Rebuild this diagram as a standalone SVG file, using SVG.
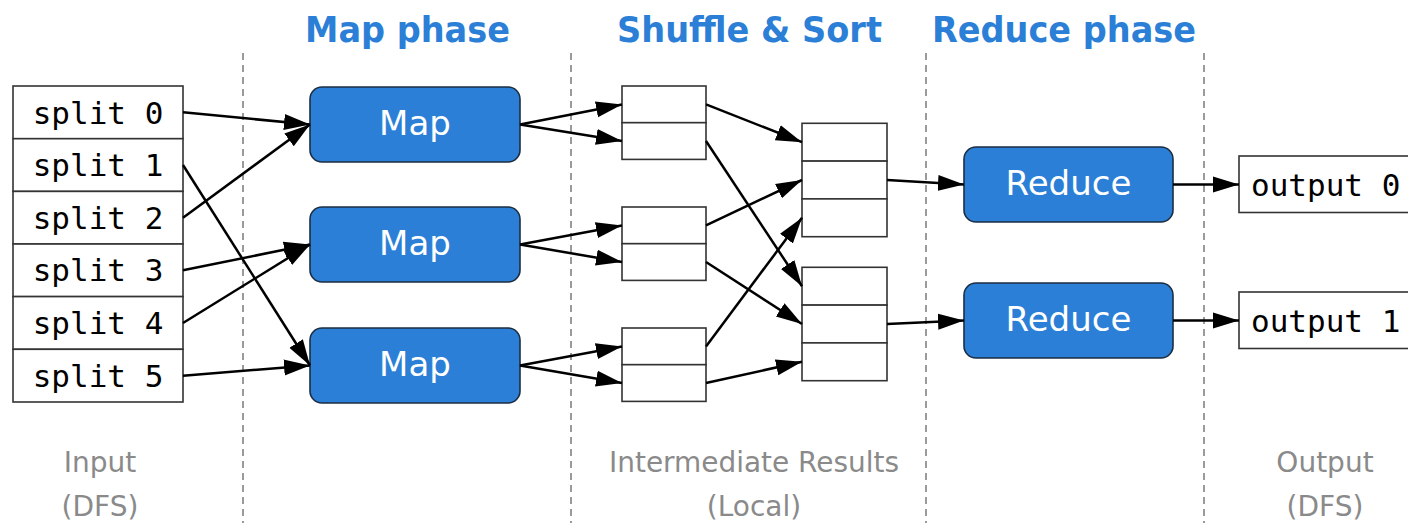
<svg xmlns="http://www.w3.org/2000/svg" width="1408" height="523" viewBox="0 0 1408 523">
  <style>
    .phase { font-family: "DejaVu Sans", "Liberation Sans", sans-serif; font-weight: bold; font-size: 36px; fill: #2b7fd6; text-anchor: middle; }
    .note { font-family: "DejaVu Sans", "Liberation Sans", sans-serif; font-size: 28px; fill: #8a8a8a; text-anchor: middle; }
    .divider { stroke: #9a9a9a; stroke-width: 2; stroke-dasharray: 7 5; fill: none; }
    .cell { fill: #ffffff; stroke: #333333; stroke-width: 1.6; }
    .mono { font-family: "DejaVu Sans Mono", "Liberation Mono", monospace; font-size: 31px; fill: #000000; }
    .task { fill: #2b7fd6; stroke: #1c2e42; stroke-width: 1.6; }
    .task-label { font-family: "DejaVu Sans", "Liberation Sans", sans-serif; font-size: 34px; fill: #ffffff; text-anchor: middle; }
    .edge { stroke: #000000; stroke-width: 2.5; fill: none; marker-end: url(#arrow); }
  </style>
  <defs>
    <marker id="arrow" markerUnits="userSpaceOnUse" markerWidth="27" markerHeight="18" refX="26" refY="9" orient="auto">
      <path d="M0,1 L26,9 L0,17 z" fill="#000000"/>
    </marker>
  </defs>

  <rect width="1408" height="523" fill="#ffffff"/>

  <!-- phase headings -->
  <g id="headings">
    <text class="phase" x="407.5" y="42" textLength="205" lengthAdjust="spacingAndGlyphs">Map phase</text>
    <text class="phase" x="749.5" y="42" textLength="265" lengthAdjust="spacingAndGlyphs">Shuffle &amp; Sort</text>
    <text class="phase" x="1064" y="42" textLength="264" lengthAdjust="spacingAndGlyphs">Reduce phase</text>
  </g>

  <!-- stage dividers -->
  <g id="dividers">
    <line class="divider" x1="243" y1="53" x2="243" y2="523"/>
    <line class="divider" x1="571" y1="53" x2="571" y2="523"/>
    <line class="divider" x1="926" y1="53" x2="926" y2="523"/>
    <line class="divider" x1="1204" y1="53" x2="1204" y2="523"/>
  </g>

  <!-- input splits -->
  <g id="input">
    <rect class="cell" x="13" y="86" width="170" height="52.7"/>
    <rect class="cell" x="13" y="138.7" width="170" height="52.7"/>
    <rect class="cell" x="13" y="191.4" width="170" height="52.6"/>
    <rect class="cell" x="13" y="244" width="170" height="52.6"/>
    <rect class="cell" x="13" y="296.6" width="170" height="52.7"/>
    <rect class="cell" x="13" y="349.3" width="170" height="52.7"/>
    <text class="mono" x="98" y="123.5" text-anchor="middle">split 0</text>
    <text class="mono" x="98" y="176" text-anchor="middle">split 1</text>
    <text class="mono" x="98" y="228.8" text-anchor="middle">split 2</text>
    <text class="mono" x="98" y="281.4" text-anchor="middle">split 3</text>
    <text class="mono" x="98" y="334" text-anchor="middle">split 4</text>
    <text class="mono" x="98" y="386.7" text-anchor="middle">split 5</text>
  </g>

  <!-- map tasks -->
  <g id="map0">
    <rect class="task" x="310" y="87" width="210" height="75" rx="12"/>
    <text class="task-label" x="415" y="135">Map</text>
  </g>
  <g id="map1">
    <rect class="task" x="310" y="207" width="210" height="75" rx="12"/>
    <text class="task-label" x="415" y="255">Map</text>
  </g>
  <g id="map2">
    <rect class="task" x="310" y="328" width="210" height="75" rx="12"/>
    <text class="task-label" x="415" y="376">Map</text>
  </g>

  <!-- local intermediate partitions per map task -->
  <g id="local0">
    <rect class="cell" x="622" y="86" width="84" height="36.7"/>
    <rect class="cell" x="622" y="122.7" width="84" height="36.7"/>
  </g>
  <g id="local1">
    <rect class="cell" x="622" y="207" width="84" height="36.7"/>
    <rect class="cell" x="622" y="243.7" width="84" height="36.7"/>
  </g>
  <g id="local2">
    <rect class="cell" x="622" y="328" width="84" height="36.7"/>
    <rect class="cell" x="622" y="364.7" width="84" height="36.7"/>
  </g>

  <!-- merged partitions per reducer -->
  <g id="merge0">
    <rect class="cell" x="802" y="123.3" width="85" height="37.8"/>
    <rect class="cell" x="802" y="161.1" width="85" height="37.8"/>
    <rect class="cell" x="802" y="198.9" width="85" height="37.8"/>
  </g>
  <g id="merge1">
    <rect class="cell" x="802" y="267.3" width="85" height="37.8"/>
    <rect class="cell" x="802" y="305.1" width="85" height="37.8"/>
    <rect class="cell" x="802" y="342.9" width="85" height="37.8"/>
  </g>

  <!-- reduce tasks -->
  <g id="reduce0">
    <rect class="task" x="964" y="147" width="209" height="75" rx="12"/>
    <text class="task-label" x="1068.5" y="195">Reduce</text>
  </g>
  <g id="reduce1">
    <rect class="task" x="964" y="283" width="209" height="75" rx="12"/>
    <text class="task-label" x="1068.5" y="331">Reduce</text>
  </g>

  <!-- outputs -->
  <g id="output0">
    <rect class="cell" x="1239" y="156" width="200" height="56.5"/>
    <text class="mono" x="1251" y="196">output 0</text>
  </g>
  <g id="output1">
    <rect class="cell" x="1239" y="292" width="200" height="56.5"/>
    <text class="mono" x="1251" y="332">output 1</text>
  </g>

  <!-- data flow -->
  <g id="connectors">
    <line class="edge" x1="183" y1="112.3" x2="310" y2="124.5"/>
    <line class="edge" x1="183" y1="217.7" x2="310" y2="124.5"/>
    <line class="edge" x1="183" y1="165" x2="310" y2="365.5"/>
    <line class="edge" x1="183" y1="270.3" x2="310" y2="244.5"/>
    <line class="edge" x1="183" y1="323" x2="310" y2="244.5"/>
    <line class="edge" x1="183" y1="375.7" x2="310" y2="365.5"/>

    <line class="edge" x1="520" y1="124.5" x2="622" y2="104.4"/>
    <line class="edge" x1="520" y1="124.5" x2="622" y2="141"/>
    <line class="edge" x1="520" y1="244.5" x2="622" y2="225.4"/>
    <line class="edge" x1="520" y1="244.5" x2="622" y2="262"/>
    <line class="edge" x1="520" y1="365.5" x2="622" y2="346.4"/>
    <line class="edge" x1="520" y1="365.5" x2="622" y2="383"/>

    <line class="edge" x1="706" y1="104.4" x2="802" y2="142.2"/>
    <line class="edge" x1="706" y1="141" x2="802" y2="286.2"/>
    <line class="edge" x1="706" y1="225.4" x2="802" y2="180"/>
    <line class="edge" x1="706" y1="262" x2="802" y2="324"/>
    <line class="edge" x1="706" y1="346.4" x2="802" y2="217.8"/>
    <line class="edge" x1="706" y1="383" x2="802" y2="361.8"/>

    <line class="edge" x1="887" y1="180" x2="964" y2="184.5"/>
    <line class="edge" x1="887" y1="324" x2="964" y2="320.5"/>

    <line class="edge" x1="1173" y1="184.5" x2="1239" y2="184.5"/>
    <line class="edge" x1="1173" y1="320.5" x2="1239" y2="320.5"/>
  </g>

  <!-- storage notes -->
  <g id="notes">
    <text class="note" x="100" y="472">Input</text>
    <text class="note" x="100" y="516">(DFS)</text>
    <text class="note" x="754" y="472" textLength="290" lengthAdjust="spacingAndGlyphs">Intermediate Results</text>
    <text class="note" x="754" y="516">(Local)</text>
    <text class="note" x="1325" y="472">Output</text>
    <text class="note" x="1325" y="516">(DFS)</text>
  </g>
</svg>
